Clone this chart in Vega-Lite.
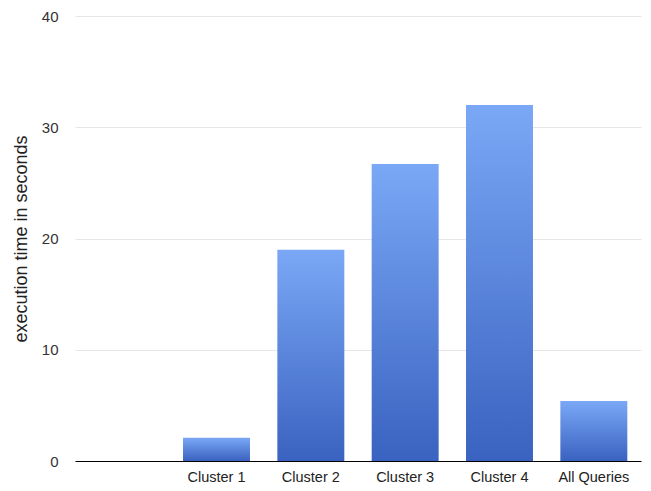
{
  "$schema": "https://vega.github.io/schema/vega-lite/v6.json",
  "width": 566,
  "height": 445,
  "autosize": "none",
  "padding": {"left": 75, "top": 16, "right": 10, "bottom": 30},
  "background": "white",
  "config": {"font": "Liberation Sans", "view": {"stroke": null}},
  "data": {"values": [
    {"category": " ", "value": null},
    {"category": "Cluster 1", "value": 2.1},
    {"category": "Cluster 2", "value": 19.0},
    {"category": "Cluster 3", "value": 26.7},
    {"category": "Cluster 4", "value": 32.0},
    {"category": "All Queries", "value": 5.4}
  ]},
  "mark": {
    "type": "bar",
    "color": {
      "gradient": "linear",
      "x1": 0, "y1": 0, "x2": 0, "y2": 1,
      "stops": [
        {"offset": 0, "color": "#7aa8f6"},
        {"offset": 1, "color": "#3a62c0"}
      ]
    }
  },
  "encoding": {
    "x": {
      "field": "category",
      "type": "nominal",
      "sort": null,
      "scale": {"domain": [" ", "Cluster 1", "Cluster 2", "Cluster 3", "Cluster 4", "All Queries"], "paddingInner": 0.29, "paddingOuter": 0.145},
      "axis": {
        "title": null,
        "labelAngle": 0,
        "ticks": false,
        "domainColor": "#000000",
        "domainWidth": 1.2,
        "labelFontSize": 14.5,
        "labelColor": "#222222",
        "labelPadding": 9,
        "grid": false
      }
    },
    "y": {
      "field": "value",
      "type": "quantitative",
      "scale": {"domain": [0, 40], "nice": false},
      "axis": {
        "title": "execution time in seconds",
        "titleFontSize": 18,
        "titleFontWeight": "normal",
        "titleColor": "#222222",
        "titlePadding": 11,
        "values": [0, 10, 20, 30, 40],
        "domain": false,
        "ticks": false,
        "labelFontSize": 15,
        "labelColor": "#333333",
        "labelPadding": 17,
        "gridColor": "#e6e6e6",
        "gridWidth": 1
      }
    }
  }
}
